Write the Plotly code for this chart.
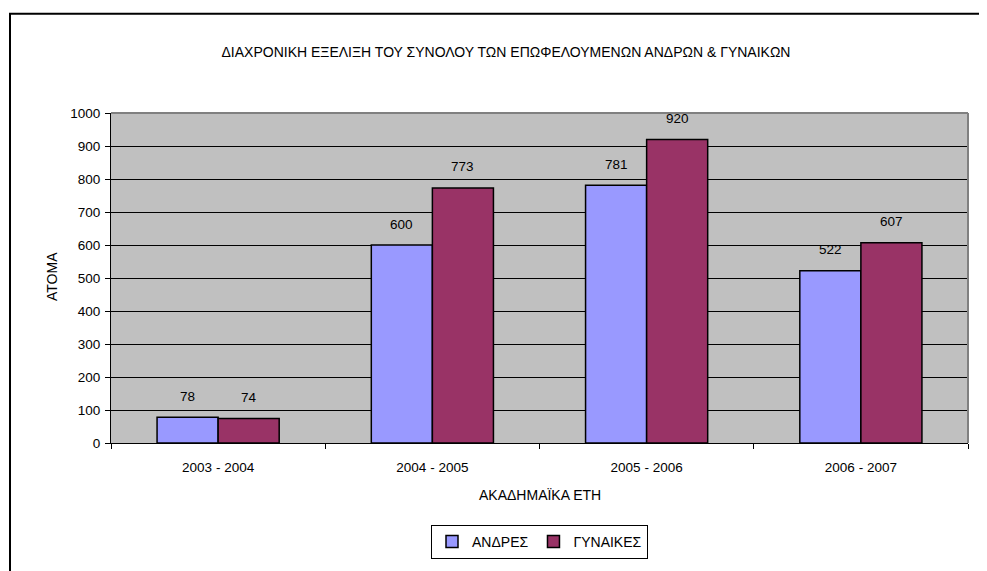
import plotly.graph_objects as go

categories = ["2003 - 2004", "2004 - 2005", "2005 - 2006", "2006 - 2007"]
men = [78, 600, 781, 522]
women = [74, 773, 920, 607]
series_names = ["ΑΝΔΡΕΣ", "ΓΥΝΑΙΚΕΣ"]
title_text = "ΔΙΑΧΡΟΝΙΚΗ ΕΞΕΛΙΞΗ ΤΟΥ ΣΥΝΟΛΟΥ ΤΩΝ ΕΠΩΦΕΛΟΥΜΕΝΩΝ ΑΝΔΡΩΝ & ΓΥΝΑΙΚΩΝ"
x_title = "ΑΚΑΔΗΜΑΪΚΑ ΕΤΗ"
y_title = "ΑΤΟΜΑ"

OFF = 8  # page body margin
W, H = 987 - OFF, 571 - OFF
L, R, T, B = 111 - OFF, 968 - OFF, 113 - OFF, 447 - OFF
FONT = "Liberation Sans, Arial, sans-serif"

fig = go.Figure()
fig.add_trace(go.Bar(x=categories, y=men, name=series_names[0],
                     marker=dict(color="#9999FF", line=dict(color="black", width=1.5))))
fig.add_trace(go.Bar(x=categories, y=women, name=series_names[1],
                     marker=dict(color="#993366", line=dict(color="black", width=1.5))))

annotations = []
for vals, shift in ((men, -30.5), (women, 30.5)):
    for c, v in zip(categories, vals):
        annotations.append(dict(x=c, y=v, xref="x", yref="y", text=str(v), showarrow=False,
                                xanchor="center", yanchor="middle",
                                xshift=shift, yshift=21, font=dict(size=13.5, color="black")))

pw, ph = R - L, B - T
annotations.append(dict(x=0.5, y=(B - (500 - OFF)) / ph, xref="paper", yref="paper", text=x_title,
                        xanchor="center", yanchor="middle",
                        showarrow=False, font=dict(size=14, color="black")))
annotations.append(dict(x=((52 - OFF) - L) / pw, y=(B - (279 - OFF)) / ph, xref="paper", yref="paper",
                        text=y_title, xanchor="center", yanchor="middle",
                        textangle=-90, showarrow=False, font=dict(size=14, color="black")))
fig.update_layout(annotations=annotations)

fig.update_layout(
    width=W, height=H,
    margin=dict(l=L, r=W - R, t=T, b=H - B),
    paper_bgcolor="white", plot_bgcolor="#C0C0C0",
    font=dict(family=FONT, size=13.5, color="black"),
    title=dict(text=title_text, x=(506 - OFF) / W, y=1 - (52 - OFF) / H, xanchor="center",
               yanchor="middle", xref="container", yref="container",
               font=dict(size=14, color="black")),
    barmode="group", bargap=0.43, bargroupgap=0,
    legend=dict(orientation="h", x=0.5, xanchor="center", y=(B - (530 - OFF)) / ph, yanchor="top",
                bordercolor="black", borderwidth=1, bgcolor="white",
                font=dict(size=14), itemwidth=30, tracegroupgap=0),
    showlegend=True,
)
fig.update_xaxes(showline=True, linecolor="black", linewidth=1, ticks="outside", ticklen=5,
                 tickcolor="black", tickson="boundaries", ticklabelstandoff=12, mirror=False,
                 showgrid=False)
fig.update_yaxes(range=[0, 1000], dtick=100, showline=True, linecolor="black", linewidth=1,
                 ticks="outside", ticklen=5, tickcolor="black", gridcolor="black", gridwidth=1,
                 zeroline=False, ticklabelstandoff=2)

# plot-area border (top and right, gray) and outer chart border
fig.add_shape(type="line", xref="paper", yref="paper", x0=0, x1=1, y0=1, y1=1,
              line=dict(color="#808080", width=2))
fig.add_shape(type="line", xref="paper", yref="paper", x0=1, x1=1, y0=0, y1=1,
              line=dict(color="#808080", width=2))
fig.add_shape(type="rect", xref="paper", yref="paper",
              x0=((10 - OFF) - L) / pw, x1=(1000 - L) / pw,
              y0=(B - 600) / ph, y1=(B - (12.5 - OFF)) / ph,
              line=dict(color="black", width=2))

fig.write_html("out.html")
